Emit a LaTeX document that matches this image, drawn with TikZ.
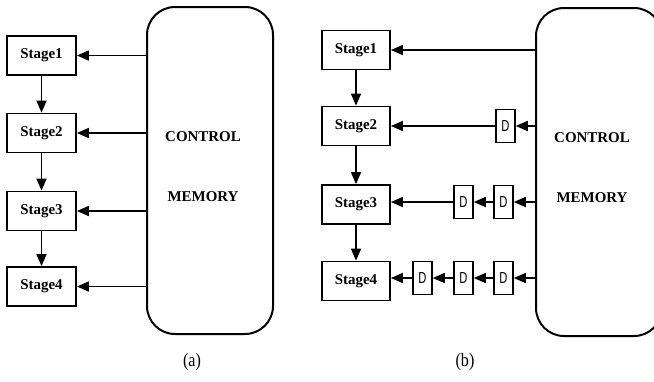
\documentclass[tikz,border=0pt]{standalone}
\usepackage{fontspec}
\usepackage{graphicx}
\setmainfont{Liberation Serif}
\newfontfamily\dfont{Liberation Sans}
\usetikzlibrary{arrows.meta}
\begin{document}
\begin{tikzpicture}[x=1bp,y=-1bp,
  stagebox/.style={draw, line width=1.8bp, minimum width=69bp, minimum height=39bp,
    inner sep=0pt, font=\fontsize{15}{15}\selectfont\bfseries},
  membox/.style={draw, line width=2bp, rounded corners=28bp, minimum width=126bp,
    minimum height=327bp, inner sep=0pt},
  dbox/.style={draw, line width=1.5bp, minimum width=19bp, minimum height=33bp,
    inner sep=0pt, font=\dfont\fontsize{16}{16}\selectfont},
  feed/.style={line width=1.6bp, -{Triangle[length=12bp,width=10bp]}},
  memtext/.style={font=\fontsize{15}{15}\selectfont\bfseries},
  caption/.style={font=\fontsize{19}{19}\selectfont}]
\useasboundingbox (0,0) rectangle (654,381);
\clip (0,0) rectangle (654,381);

% ---- (a) direct control ----
\node[membox] (memA) at (210,170.5) {};
\node[memtext] (ctlA) at (203,137) {CONTROL};
\node[memtext] (memtA) at (203,197) {MEMORY};
\node[stagebox] (a1) at (41.5,55.5) {Stage1};
\node[stagebox] (a2) at (41.5,133) {Stage2};
\node[stagebox] (a3) at (41.5,211) {Stage3};
\node[stagebox] (a4) at (41.5,286.5) {Stage4};
\draw[feed] (a1) -- (a2);
\draw[feed] (a2) -- (a3);
\draw[feed] (a3) -- (a4);
\foreach \s in {a1,a2,a3,a4}
  \draw[feed] (memA.west |- \s) -- (\s);
\node[caption] (capA) at (192,362) {\scalebox{0.85}[1]{(a)}};

% ---- (b) control through delay chains ----
\node[membox, minimum height=328bp] (memB) at (599,172) {};
\node[memtext] (ctlB) at (592,138) {CONTROL};
\node[memtext] (memtB) at (592,198) {MEMORY};
\node[stagebox, minimum width=68bp] (b1) at (356,50) {Stage1};
\node[stagebox, minimum width=68bp] (b2) at (356,126) {Stage2};
\node[stagebox, minimum width=68bp] (b3) at (356,204.5) {Stage3};
\node[stagebox, minimum width=68bp] (b4) at (356,281) {Stage4};
\draw[feed] (b1) -- (b2);
\draw[feed] (b2) -- (b3);
\draw[feed] (b3) -- (b4);

\node[dbox] (d21) at (505.5,126) {\scalebox{0.7}[1]{D}};
\node[dbox] (d31) at (503.5,202) {\scalebox{0.7}[1]{D}};
\node[dbox] (d32) at (463.5,202) {\scalebox{0.7}[1]{D}};
\node[dbox] (d41) at (503.5,278) {\scalebox{0.7}[1]{D}};
\node[dbox] (d42) at (463.5,278) {\scalebox{0.7}[1]{D}};
\node[dbox] (d43) at (422.5,278) {\scalebox{0.7}[1]{D}};

\draw[feed] (memB.west |- b1) -- (b1);
\draw[feed] (memB.west |- d21) -- (d21);
\draw[feed] (d21) -- (b2);
\draw[feed] (memB.west |- d31) -- (d31);
\draw[feed] (d31) -- (d32);
\draw[feed] (d32) -- (b3.east |- d32);
\draw[feed] (memB.west |- d41) -- (d41);
\draw[feed] (d41) -- (d42);
\draw[feed] (d42) -- (d43);
\draw[feed] (d43) -- (b4.east |- d43);
\node[caption] (capB) at (465,362) {\scalebox{0.85}[1]{(b)}};
\end{tikzpicture}
\end{document}
